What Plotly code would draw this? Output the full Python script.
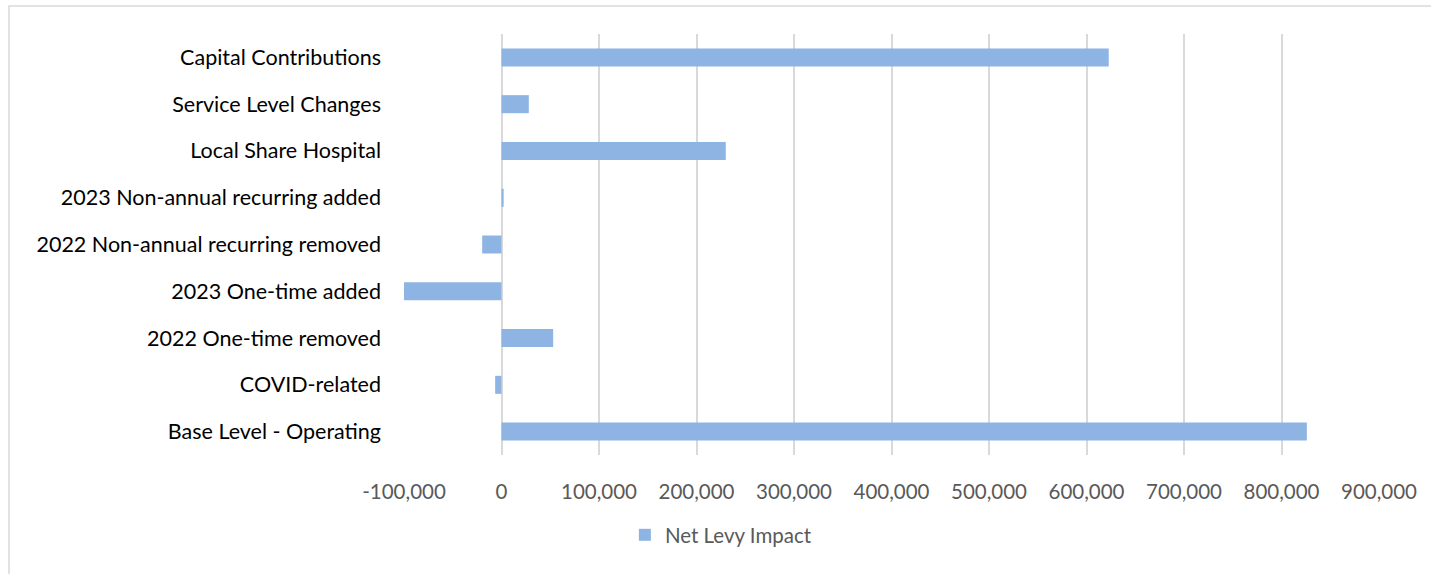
import plotly.graph_objects as go

categories = [
    "Base Level - Operating",
    "COVID-related",
    "2022 One-time removed",
    "2023 One-time added",
    "2022 Non-annual recurring removed",
    "2023 Non-annual recurring added",
    "Local Share Hospital",
    "Service Level Changes",
    "Capital Contributions",
]
net_levy_impact = [826000, -6500, 53000, -100000, -19800, 2200, 230000, 28000, 622800]
tick_vals = [-100000, 0, 100000, 200000, 300000, 400000, 500000, 600000, 700000, 800000, 900000]
tick_text = ["-100,000", "0", "100,000", "200,000", "300,000", "400,000",
             "500,000", "600,000", "700,000", "800,000", "900,000"]

W, H = 1431, 574
L, R, T, B = 404, 52, 34, 119

fig = go.Figure(go.Bar(
    y=categories, x=net_levy_impact, orientation="h",
    name="Net Levy Impact",
    marker=dict(color="#8EB4E3", line=dict(width=0)),
))

pw = W - L - R
ph = H - T - B
fig.update_layout(
    width=W, height=H,
    margin=dict(l=L, r=R, t=T, b=B, pad=0),
    paper_bgcolor="white", plot_bgcolor="white",
    font=dict(family="Lato", size=20, color="#595959"),
    bargap=0.615,
    showlegend=True,
    legend=dict(orientation="h", x=0.325, xanchor="center", y=-0.19, yanchor="middle",
                font=dict(size=20.5, color="#595959"), itemwidth=30),
    xaxis=dict(range=[-100000, 900000], tickvals=tick_vals, ticktext=tick_text,
               showgrid=True, gridcolor="#D9D9D9", gridwidth=1.5,
               zeroline=True, zerolinecolor="#D9D9D9", zerolinewidth=1.5,
               showline=False, ticks="", ticklabelstandoff=22,
               tickfont=dict(size=20.5, color="#595959"), fixedrange=True),
    yaxis=dict(categoryorder="array", categoryarray=categories,
               showgrid=False, zeroline=False, showline=False, ticks="",
               ticklabelstandoff=22, tickfont=dict(size=21.5, color="#000000")),
    shapes=[dict(type="rect", xref="paper", yref="paper",
                 x0=(9 - L) / pw, x1=(W + 5 - L) / pw,
                 y0=-(H + 5 - T - ph) / ph, y1=(ph + T - 6) / ph,
                 line=dict(color="#D9D9D9", width=1.5), fillcolor="rgba(0,0,0,0)",
                 layer="below")],
)

fig.write_html("out.html")
